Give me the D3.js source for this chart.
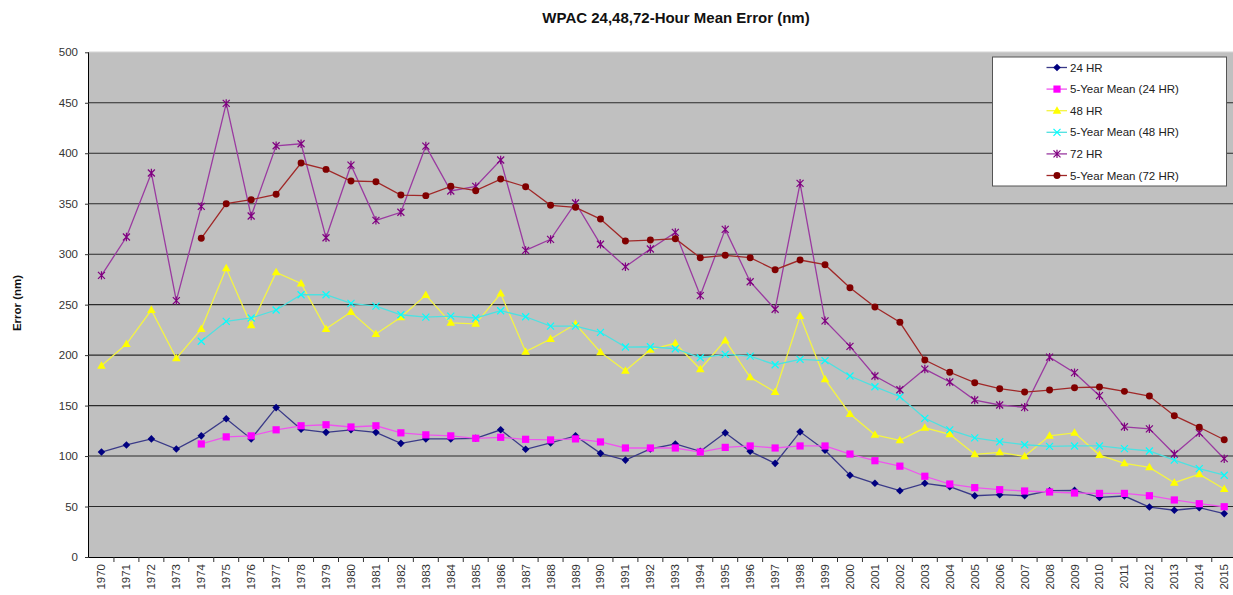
<!DOCTYPE html>
<html>
<head>
<meta charset="utf-8">
<script src="https://cdn.jsdelivr.net/npm/d3@7/dist/d3.min.js"></script>
<style>
  html, body { margin: 0; padding: 0; background: #fff; }
  svg { display: block; font-family: Arial, "Liberation Sans", sans-serif; }
</style>
</head>
<body>
<svg id="chart" width="1233" height="595"></svg>
<script>
// Forecast years
const years = d3.range(1970, 2016).map(String);

// Mean track error by forecast period (nm)
const hr24 = [104, 111, 117, 107, 120, 137, 117, 148, 126.5, 123.5, 126, 123.5, 112.6, 117, 117, 117.6, 126, 106.7, 113, 120, 102.7, 96, 107, 112, 104.7, 123, 104.7, 92.8, 124, 105.7, 81, 73, 65.7, 73, 69.6, 60.7, 61.7, 60.7, 65.7, 66, 59, 60.4, 49.5, 46.3, 48.8, 43];
const mean24 = [null, null, null, null, 112, 119, 120, 126, 130, 131, 128.8, 130, 123, 121, 120, 117.6, 118.6, 116.6, 116, 117, 114, 108, 108, 108, 104, 108.6, 110, 108, 110, 110, 102, 95.4, 90, 80, 72.3, 68.7, 66.7, 65.4, 64.4, 63.4, 63, 63, 60.7, 56.5, 52.8, 49.8];
const hr48 = [189.5, 211, 244.7, 196.8, 225.8, 286, 229.5, 282, 271, 226, 242.7, 221, 237.5, 259.5, 232, 231, 261, 203.4, 216, 230.8, 202.8, 184.6, 205.4, 211.7, 186, 214.6, 178, 163.4, 238.7, 176, 141.7, 121, 115.6, 128, 121.5, 101.7, 103.7, 99.7, 120, 123, 101, 92.8, 88.8, 73.6, 82, 67.4];
const mean48 = [null, null, null, null, 213.7, 233.5, 236.8, 244.7, 259.8, 259.8, 251.3, 248.6, 240, 237.7, 238.7, 236.8, 244, 238, 228.8, 228.8, 222.6, 208, 208.3, 206.3, 197.4, 200.8, 199, 190.5, 195.8, 194.5, 179.3, 168.7, 158.8, 137.4, 126, 118, 114.2, 111.2, 109.6, 110, 110, 107.3, 105, 96, 87.5, 81];
const hr72 = [279, 317, 380.4, 254, 347.4, 449.4, 337.8, 407.4, 409.4, 316.3, 388.3, 333.5, 341.5, 407.1, 362.6, 367.2, 393.3, 303.8, 314.7, 350.7, 309.8, 287.6, 305.1, 321.6, 259, 324.6, 272.7, 245.4, 370.2, 234, 208.7, 179.3, 165.7, 186.2, 173.4, 155.5, 150.6, 148.3, 198, 182.6, 159.8, 129, 127, 102, 123, 97.4];
const mean72 = [null, null, null, null, 315.7, 350, 354, 359.3, 390.3, 384, 372.5, 371.8, 358.6, 358, 367.2, 362.9, 374.4, 366.8, 348.4, 346.4, 334.8, 313, 314, 315.3, 296.5, 298.9, 296.5, 284.6, 294.2, 289.6, 266.8, 247.6, 232.5, 195.1, 183, 172.7, 166.7, 163.4, 165.4, 167.7, 168.4, 164.1, 159.5, 140, 128.5, 116.2];

const yTicks = [0, 50, 100, 150, 200, 250, 300, 350, 400, 450, 500];

const seriesNames = ["24 HR", "5-Year Mean (24 HR)", "48 HR", "5-Year Mean (48 HR)", "72 HR", "5-Year Mean (72 HR)"];
const seriesValues = [hr24, mean24, hr48, mean48, hr72, mean72];
const seriesColors = ["#000080", "#ff00ff", "#ffff00", "#00ffff", "#800080", "#800000"];
const lineColors = ["#3a3a88", "#ee55ee", "#f4f442", "#4fe0e0", "#9a3aa0", "#a02828"];
const markerKinds = ["diamond", "square", "triangle", "x", "star", "circle"];

const svg = d3.select("#chart");
const W = 1233;
const plotLeft = 89, plotTop = 52.3, plotBottom = 557;
const band = 24.95;

const x = d3.scaleBand().domain(years).range([plotLeft, plotLeft + band * years.length]).padding(0);
const y = d3.scaleLinear().domain([0, 500]).range([plotBottom, plotTop]);
const cx = d => x(d) + x.bandwidth() / 2;

// Plot background
svg.append("rect")
  .attr("x", plotLeft).attr("y", plotTop - 0.5)
  .attr("width", W - plotLeft).attr("height", plotBottom - plotTop + 0.5)
  .attr("fill", "#c0c0c0");
svg.append("line")
  .attr("x1", plotLeft).attr("x2", W).attr("y1", plotTop - 0.5).attr("y2", plotTop - 0.5)
  .attr("stroke", "#e4e4e4").attr("stroke-width", 1);

// Horizontal gridlines
svg.append("g").selectAll("line")
  .data(yTicks.filter(t => t > 0 && t < 500))
  .join("line")
  .attr("x1", plotLeft).attr("x2", W)
  .attr("y1", d => y(d)).attr("y2", d => y(d))
  .attr("stroke", "#2a2a2a").attr("stroke-width", 1.1);

// Y axis
const yAxis = svg.append("g")
  .attr("transform", `translate(${plotLeft},0)`)
  .call(d3.axisLeft(y).tickValues(yTicks).tickSize(4).tickPadding(7));
yAxis.select(".domain").attr("stroke", "#000").attr("d", `M-0.5,${plotTop}V${plotBottom}`);
yAxis.selectAll(".tick line").attr("stroke", "#333");
yAxis.selectAll("text").attr("font-size", 11.5).attr("fill", "#333")
  .attr("font-family", "Arial, 'Liberation Sans', sans-serif");

// X axis line and category boundary ticks
svg.append("line")
  .attr("x1", plotLeft).attr("x2", W).attr("y1", plotBottom + 0.5).attr("y2", plotBottom + 0.5)
  .attr("stroke", "#000");
svg.append("g").selectAll("line")
  .data(years)
  .join("line")
  .attr("x1", d => x(d) + x.bandwidth()).attr("x2", d => x(d) + x.bandwidth())
  .attr("y1", plotBottom).attr("y2", plotBottom + 5)
  .attr("stroke", "#333");

// X labels (rotated)
svg.append("g").selectAll("text")
  .data(years)
  .join("text")
  .attr("transform", d => `translate(${cx(d) + 4},${plotBottom + 7}) rotate(-90)`)
  .attr("text-anchor", "end")
  .attr("font-size", 11.5)
  .attr("fill", "#333")
  .text(d => d);

// Series lines and markers
function markerPath(kind) {
  switch (kind) {
    case "diamond": return "M0,-3.8L3.8,0L0,3.8L-3.8,0Z";
    case "square": return "M-3.6,-3.6H3.6V3.6H-3.6Z";
    case "triangle": return "M0,-4.5L4.3,3L-4.3,3Z";
    case "x": return "M-3.5,-3.5L3.5,3.5M-3.5,3.5L3.5,-3.5";
    case "star": return "M-3.5,-3.5L3.5,3.5M-3.5,3.5L3.5,-3.5M0,-4.2V4.2";
    case "circle": return d3.symbol(d3.symbolCircle, 38)();
  }
}
const stroked = k => k === "x" || k === "star";

const line = d3.line()
  .defined(d => d.v != null)
  .x(d => cx(d.year))
  .y(d => y(d.v));

seriesValues.forEach((vals, i) => {
  const pts = years.map((yr, j) => ({ year: yr, v: vals[j] }));
  const g = svg.append("g");
  g.append("path")
    .datum(pts)
    .attr("fill", "none")
    .attr("stroke", lineColors[i])
    .attr("stroke-width", 1.3)
    .attr("d", line);
  g.selectAll("path.m")
    .data(pts.filter(d => d.v != null))
    .join("path")
    .attr("class", "m")
    .attr("transform", d => `translate(${cx(d.year)},${y(d.v)})`)
    .attr("d", markerPath(markerKinds[i]))
    .attr("fill", stroked(markerKinds[i]) ? "none" : seriesColors[i])
    .attr("stroke", stroked(markerKinds[i]) ? seriesColors[i] : "none")
    .attr("stroke-width", 1.2);
});

// Legend
const legend = svg.append("g");
legend.append("rect")
  .attr("x", 992.5).attr("y", 57).attr("width", 234).attr("height", 129)
  .attr("fill", "#fff").attr("stroke", "#555").attr("stroke-width", 1);
seriesNames.forEach((name, i) => {
  const ly = 67.5 + i * 21.6;
  legend.append("line")
    .attr("x1", 1046.5).attr("x2", 1067).attr("y1", ly).attr("y2", ly)
    .attr("stroke", lineColors[i]).attr("stroke-width", 1.3);
  legend.append("path")
    .attr("transform", `translate(1057,${ly})`)
    .attr("d", markerPath(markerKinds[i]))
    .attr("fill", stroked(markerKinds[i]) ? "none" : seriesColors[i])
    .attr("stroke", stroked(markerKinds[i]) ? seriesColors[i] : "none")
    .attr("stroke-width", 1.2);
  legend.append("text")
    .attr("x", 1070).attr("y", ly + 4)
    .attr("font-size", 11.5).attr("fill", "#222")
    .text(name);
});

// Title
svg.append("text")
  .attr("x", 676).attr("y", 22.5)
  .attr("text-anchor", "middle")
  .attr("font-size", 15).attr("font-weight", "bold").attr("fill", "#111")
  .text("WPAC 24,48,72-Hour Mean Error (nm)");

// Y axis title
svg.append("text")
  .attr("transform", "translate(21,303) rotate(-90)")
  .attr("text-anchor", "middle")
  .attr("font-size", 11.5).attr("font-weight", "bold").attr("fill", "#111")
  .text("Error (nm)");
</script>
</body>
</html>
